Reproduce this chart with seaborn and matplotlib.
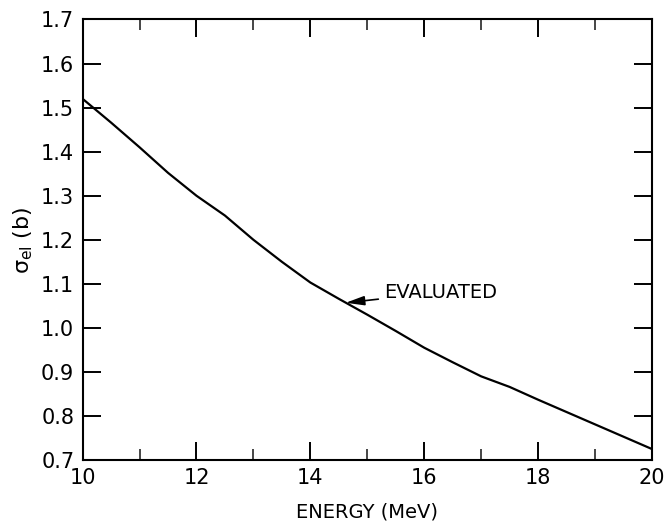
import matplotlib
matplotlib.use("Agg")
import matplotlib.pyplot as plt
from matplotlib.ticker import FixedLocator
import seaborn as sns
import pandas as pd

# Elastic cross section, evaluated curve
energy_mev = [10, 10.5, 11, 11.5, 12, 12.5, 13, 13.5, 14, 14.5, 15,
              15.5, 16, 16.5, 17, 17.5, 18, 18.5, 19, 19.5, 20]
sigma_el_b = [1.520, 1.466, 1.410, 1.352, 1.300, 1.255, 1.200, 1.150, 1.103,
              1.066, 1.030, 0.993, 0.955, 0.922, 0.890, 0.866, 0.837, 0.809,
              0.781, 0.753, 0.725]

x_major = [10, 12, 14, 16, 18, 20]
x_minor = [11, 13, 15, 17, 19]
y_ticks = [0.7, 0.8, 0.9, 1.0, 1.1, 1.2, 1.3, 1.4, 1.5, 1.6, 1.7]

df = pd.DataFrame({"energy": energy_mev, "sigma": sigma_el_b})

sns.set_style("ticks")
plt.rcParams["font.family"] = ["DejaVu Sans"]
plt.rcParams["text.color"] = "black"
plt.rcParams["axes.labelcolor"] = "black"

fig = plt.figure(figsize=(6.66, 5.27), dpi=100)
ax = fig.add_axes([0.124, 0.127, 0.855, 0.836])

sns.lineplot(data=df, x="energy", y="sigma", ax=ax, color="black",
             linewidth=1.6, estimator=None, sort=False)

ax.set_xlim(10, 20)
ax.set_ylim(0.7, 1.7)
ax.xaxis.set_major_locator(FixedLocator(x_major))
ax.xaxis.set_minor_locator(FixedLocator(x_minor))
ax.yaxis.set_major_locator(FixedLocator(y_ticks))
ax.set_xticklabels([str(v) for v in x_major])
ax.set_yticklabels([f"{v:.1f}" for v in y_ticks])

ax.tick_params(axis="both", which="major", direction="in", length=13,
               width=1.4, top=True, right=True, labelsize=15, pad=6,
               colors="black")
ax.tick_params(axis="x", which="minor", direction="in", length=8,
               width=1.2, top=True, bottom=True)
for s in ax.spines.values():
    s.set_visible(True)
    s.set_linewidth(1.5)
    s.set_color("black")

ax.set_xlabel("ENERGY (MeV)", fontsize=14, labelpad=10)
ax.set_ylabel(r"$\mathregular{\sigma_{el}}$ (b)", fontsize=16, labelpad=4)

ax.annotate("EVALUATED", xy=(14.62, 1.057), xytext=(15.30, 1.081),
            fontsize=14, va="center", ha="left",
            arrowprops=dict(arrowstyle="-|>,head_length=0.8,head_width=0.2",
                            color="black", lw=1.2, shrinkA=2, shrinkB=0))

fig.savefig("out.png", dpi=100, facecolor="white")
